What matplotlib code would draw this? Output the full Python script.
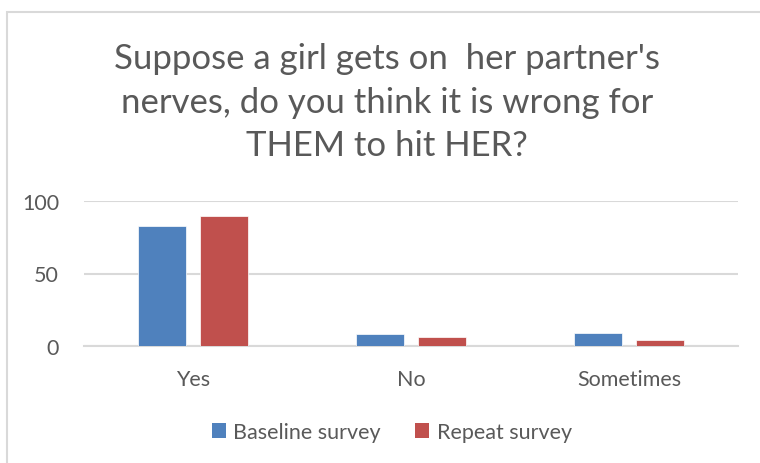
import matplotlib.pyplot as plt
from matplotlib.patches import Rectangle, Patch
import numpy as np

plt.rcParams['font.family'] = ['Lato', 'DejaVu Sans']

# survey responses (%)
categories = ['Yes', 'No', 'Sometimes']
baseline = [83, 8, 9]
repeat = [90, 6, 4]
series_names = ['Baseline survey', 'Repeat survey']

blue = '#4f81bd'
red = '#c0504d'
grey_txt = '#595959'
grid_col = '#d9d9d9'

W, H = 760, 464
fig = plt.figure(figsize=(W / 100, H / 100), dpi=100)

# outer chart frame (runs off the right and bottom edges)
fig.patches.append(Rectangle((6.5 / W, -0.05), 1.1, 1 - 12.5 / H + 0.05,
                             transform=fig.transFigure, fill=False,
                             edgecolor=grid_col, linewidth=1.5))

# clipped heading above the chart
fig.text(0.0, 1 + 6 / H, 'r %.', fontsize=16, fontweight='bold',
         color='black', va='center', ha='left')

ax = fig.add_axes([84 / W, 1 - 346.7 / H, (738 - 84) / W, (346.7 - 202.3) / H])
x = np.arange(len(categories))
w = 0.22
off = 0.142
ax.bar(x - off, baseline, w, color=blue, edgecolor='white', linewidth=0.5, zorder=3)
ax.bar(x + off, repeat, w, color=red, edgecolor='white', linewidth=0.5, zorder=3)

ax.set_xlim(-0.5, 2.5)
ax.set_ylim(0, 100)
ax.set_yticks([0, 50, 100])
ax.yaxis.grid(True, color=grid_col, linewidth=1.5, zorder=0)
ax.set_axisbelow(True)
for s in ['left', 'right', 'top']:
    ax.spines[s].set_visible(False)
ax.spines['bottom'].set_color(grid_col)
ax.spines['bottom'].set_linewidth(1.5)
ax.tick_params(axis='both', length=0, labelsize=15.5, colors=grey_txt)
ax.tick_params(axis='y', pad=18)
ax.tick_params(axis='x', pad=17)
ax.set_xticks(x)
ax.set_xticklabels(categories)

fig.text(387 / W, 1 - 43 / H,
         "Suppose a girl gets on  her partner's\nnerves, do you think it is wrong for\nTHEM to hit HER?",
         ha='center', va='top', fontsize=25, color=grey_txt, linespacing=1.45)

handles = [Patch(facecolor=blue), Patch(facecolor=red)]
fig.legend(handles, series_names, loc='center', bbox_to_anchor=(392 / W, 1 - 433 / H),
           ncol=2, frameon=False, fontsize=15.5, labelcolor=grey_txt,
           handlelength=0.65, handleheight=0.65, handletextpad=0.35, columnspacing=1.6)

fig.savefig('out.png', dpi=100)
